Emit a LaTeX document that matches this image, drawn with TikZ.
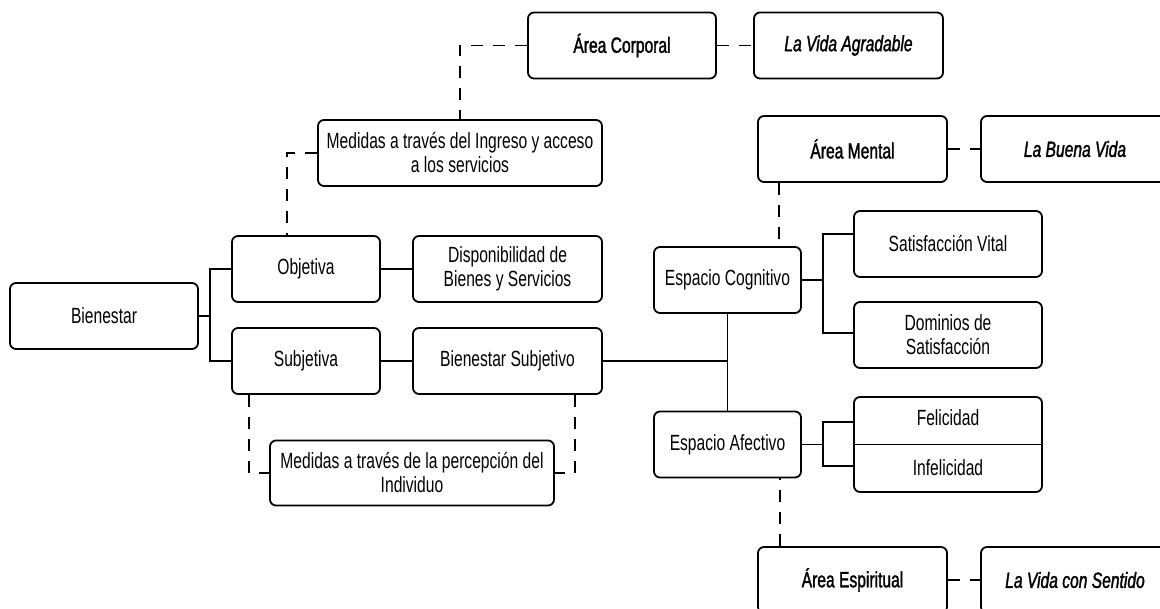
\documentclass[tikz,border=0pt]{standalone}
\usepackage{fontspec}
\setmainfont{Liberation Sans}[FakeStretch=0.71]
\newfontfamily\areafont{Liberation Sans}[FakeStretch=0.71, FakeBold=1.5]
\usepackage{tikz}
\usetikzlibrary{calc}

\begin{document}
\begin{tikzpicture}[x=1pt, y=-1pt,
    caja/.style={draw, line width=1.8pt, rounded corners=6pt, minimum height=66pt,
      align=center, inner sep=2pt, font=\fontsize{22}{24}\selectfont},
    area/.style={caja, font=\fontsize{22}{24}\selectfont\areafont},
    vida/.style={caja, font=\fontsize{22}{24}\selectfont\areafont\itshape},
    linea/.style={line width=1.8pt},
    guion/.style={line width=1.8pt, dash pattern=on 12pt off 10pt}]
    \useasboundingbox (0,0) rectangle (1160,609);
    % ramas de la izquierda
    \node[caja, minimum width=188] (Bienestar) at (104,316) {Bienestar};
    \node[caja, minimum width=148] (Objetiva) at (306,269) {Objetiva};
    \node[caja, minimum width=148] (Subjetiva) at (306,361) {Subjetiva};
    \node[caja, minimum width=189] (Disponibilidad) at (507.5,269) {Disponibilidad de\\Bienes y Servicios};
    \node[caja, minimum width=189] (BienestarSubj) at (507.5,361) {Bienestar Subjetivo};
    \node[caja, minimum width=284] (Ingreso) at (460,153) {Medidas a trav\'es del Ingreso y acceso\\a los servicios};
    \node[caja, minimum width=284, minimum height=65pt] (Percepcion) at (412,473) {Medidas a trav\'es de la percepci\'on del\\Individuo};
    \node[area, minimum width=188] (Corporal) at (622,45.5) {Área Corporal};
    \node[vida, minimum width=189] (Agradable) at (848.5,45.5) {La Vida Agradable};
    % espacios
    \node[caja, minimum width=147] (Cognitivo) at (727.5,280) {Espacio Cognitivo};
    \node[caja, minimum width=147] (Afectivo) at (727.5,444.5) {Espacio Afectivo};
    \node[caja, minimum width=188] (Satisfaccion) at (948,244) {Satisfacci\'on Vital};
    \node[caja, minimum width=188] (Dominios) at (948,335) {Dominios de\\Satisfacci\'on};
    \node[caja, minimum width=188, minimum height=95pt] (Afectos) at (948,444.5) {};
    \node[font=\fontsize{22}{24}\selectfont] (Felicidad) at (948,418) {Felicidad};
    \node[font=\fontsize{22}{24}\selectfont] (Infelicidad) at (948,468) {Infelicidad};
    \node[area, minimum width=189] (Mental) at (852.5,149) {Área Mental};
    \node[vida, minimum width=188] (BuenaVida) at (1075,149) {La Buena Vida};
    \node[area, minimum width=189] (Espiritual) at (852.5,580) {Área Espiritual};
    \node[vida, minimum width=188] (Sentido) at (1075,580) {La Vida con Sentido};

    \coordinate (Rama) at (210,316);
    \coordinate (RamaC) at (823,280);
    \coordinate (RamaA) at (823,444.5);

    % lineas
    \draw[linea] (Bienestar.east) -- (Rama);
    \draw[linea] (Objetiva.west) -| (Rama) |- (Subjetiva.west);
    \draw[linea] (Objetiva) -- (Disponibilidad);
    \draw[linea] (Subjetiva) -- (BienestarSubj);
    \draw[linea] (BienestarSubj.east) -- (BienestarSubj.east -| Cognitivo.south);
    \draw[linea] (Cognitivo.south) -- (Afectivo.north);
    \draw[linea] (Cognitivo.east) -- (RamaC);
    \draw[linea] ([yshift=10pt]Satisfaccion.west) -| (RamaC) |- ([yshift=2pt]Dominios.west);
    \draw[linea] (Afectivo.east) -- (RamaA);
    \draw[linea] ([yshift=22.5pt]Afectos.west) -| (RamaA) |- ([yshift=-21.5pt]Afectos.west);
    \draw[linea] (Afectos.west) -- (Afectos.east);

    % lineas de guiones
    \draw[guion] (Corporal.west) -| (Ingreso.north);
    \draw[guion] (Ingreso.west) -| ([xshift=-19pt]Objetiva.north);
    \draw[guion] ([xshift=-57pt]Subjetiva.south) |- (Percepcion.west);
    \draw[guion] ([xshift=67.5pt]BienestarSubj.south) |- (Percepcion.east);
    \draw[guion] (Corporal) -- (Agradable);
    \draw[guion] (Mental) -- (BuenaVida);
    \draw[guion] (Espiritual) -- (Sentido);
    \draw[guion] ([xshift=-73.5pt]Mental.south) -- ([xshift=-73.5pt]Mental.south |- Cognitivo.north);
    \draw[guion] ([xshift=-72.5pt]Espiritual.north) -- ([xshift=-72.5pt]Espiritual.north |- Afectivo.south);
\end{tikzpicture}
\end{document}
